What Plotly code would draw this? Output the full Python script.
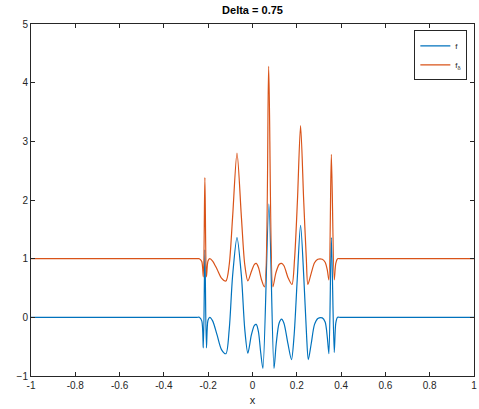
import plotly.graph_objects as go

# sampled curve f
x_f = [-1.0, -0.7, -0.4, -0.28, -0.25, -0.24, -0.229, -0.222, -0.215, -0.208, -0.201, -0.193, -0.18, -0.16, -0.14, -0.12,
       -0.105, -0.09, -0.07, -0.05, -0.035, -0.021, -0.005, 0.008, 0.017, 0.027, 0.037, 0.047,
       0.074, 0.097, 0.107, 0.12, 0.131, 0.142, 0.16, 0.176, 0.188, 0.202, 0.217, 0.232, 0.244,
       0.252, 0.265, 0.28, 0.295, 0.315, 0.328, 0.338, 0.345, 0.356, 0.369, 0.376, 0.384, 0.395,
       0.41, 0.43, 0.5, 0.75, 1.0]
y_f = [0.0, 0.0, 0.0, 0.0, 0.0, 0.0, -0.06, -0.52, 1.15, -0.52, -0.05, 0.0, -0.06, -0.3, -0.55, -0.62,
       -0.2, 0.7, 1.36, 0.7, -0.2, -0.61, -0.3, -0.14, -0.12, -0.25, -0.6, -0.87,
       1.93, -0.87, -0.45, -0.1, -0.03, -0.1, -0.45, -0.72, -0.3, 0.65, 1.57, 0.65, -0.3,
       -0.72, -0.45, -0.12, -0.02, -0.01, -0.08, -0.35, -0.62, 1.36, -0.6, -0.1, 0.0, 0.0,
       0.0, 0.0, 0.0, 0.0, 0.0]

# sampled curve f_delta
x_d = [-1.0, -0.7, -0.4, -0.28, -0.25, -0.24, -0.229, -0.222, -0.215, -0.208, -0.201, -0.193, -0.18, -0.16, -0.14, -0.12,
       -0.105, -0.09, -0.07, -0.05, -0.035, -0.021, -0.005, 0.008, 0.017, 0.027, 0.04, 0.054,
       0.073, 0.092, 0.105, 0.12, 0.131, 0.142, 0.16, 0.178, 0.19, 0.203, 0.217, 0.231, 0.243,
       0.25, 0.265, 0.28, 0.295, 0.315, 0.328, 0.338, 0.345, 0.356, 0.369, 0.376, 0.384, 0.395,
       0.41, 0.43, 0.5, 0.75, 1.0]
y_d = [1.0, 1.0, 1.0, 1.0, 1.0, 1.0, 0.95, 0.69, 2.38, 0.69, 0.96, 1.0, 0.96, 0.82, 0.67, 0.62,
       0.9, 1.7, 2.8, 1.7, 0.9, 0.62, 0.78, 0.9, 0.92, 0.85, 0.65, 0.52,
       4.28, 0.52, 0.75, 0.9, 0.92, 0.88, 0.68, 0.56, 1.0, 2.0, 3.27, 2.0, 1.0,
       0.56, 0.75, 0.93, 0.99, 0.99, 0.94, 0.8, 0.64, 2.78, 0.64, 0.92, 1.0, 1.0,
       1.0, 1.0, 1.0, 1.0, 1.0]

x_ticks = [-1, -0.8, -0.6, -0.4, -0.2, 0, 0.2, 0.4, 0.6, 0.8, 1]
x_labels = ["-1", "-0.8", "-0.6", "-0.4", "-0.2", "0", "0.2", "0.4", "0.6", "0.8", "1"]
y_ticks = [-1, 0, 1, 2, 3, 4, 5]

blue = "#0072BD"
orange = "#D95319"
axis_col = "#262626"

fig = go.Figure()
fig.add_trace(go.Scatter(x=x_f, y=y_f, mode="lines", name="f",
                         line=dict(color=blue, width=1.2, shape="spline", smoothing=0.8)))
fig.add_trace(go.Scatter(x=x_d, y=y_d, mode="lines", name="f<sub>δ</sub>",
                         line=dict(color=orange, width=1.2, shape="spline", smoothing=0.8)))

axis_common = dict(showline=True, linecolor=axis_col, linewidth=1, mirror="ticks",
                   ticks="inside", ticklen=4, tickcolor=axis_col, showgrid=False,
                   zeroline=False, tickfont=dict(size=10, color=axis_col))

fig.update_layout(
    width=479, height=409,
    margin=dict(l=31, r=2, t=24, b=33),
    paper_bgcolor="white", plot_bgcolor="white",
    font=dict(family="Liberation Sans, Arial, sans-serif", color=axis_col),
    title=dict(text="<b>Delta = 0.75</b>", xref="paper", x=0.5, xanchor="center",
               y=0.985, yanchor="top", font=dict(size=11, color="black")),
    xaxis=dict(range=[-1, 1], tickvals=x_ticks, ticktext=x_labels, ticklabeloverflow="allow",
               title=dict(text="x", font=dict(size=11), standoff=6), **axis_common),
    yaxis=dict(range=[-1, 5], tickvals=y_ticks, **axis_common),
    legend=dict(x=0.985, y=0.982, xanchor="right", yanchor="top",
                bordercolor=axis_col, borderwidth=1, bgcolor="white",
                font=dict(size=8), itemwidth=30, tracegroupgap=0),
    showlegend=True,
)

fig.write_html("out.html")
